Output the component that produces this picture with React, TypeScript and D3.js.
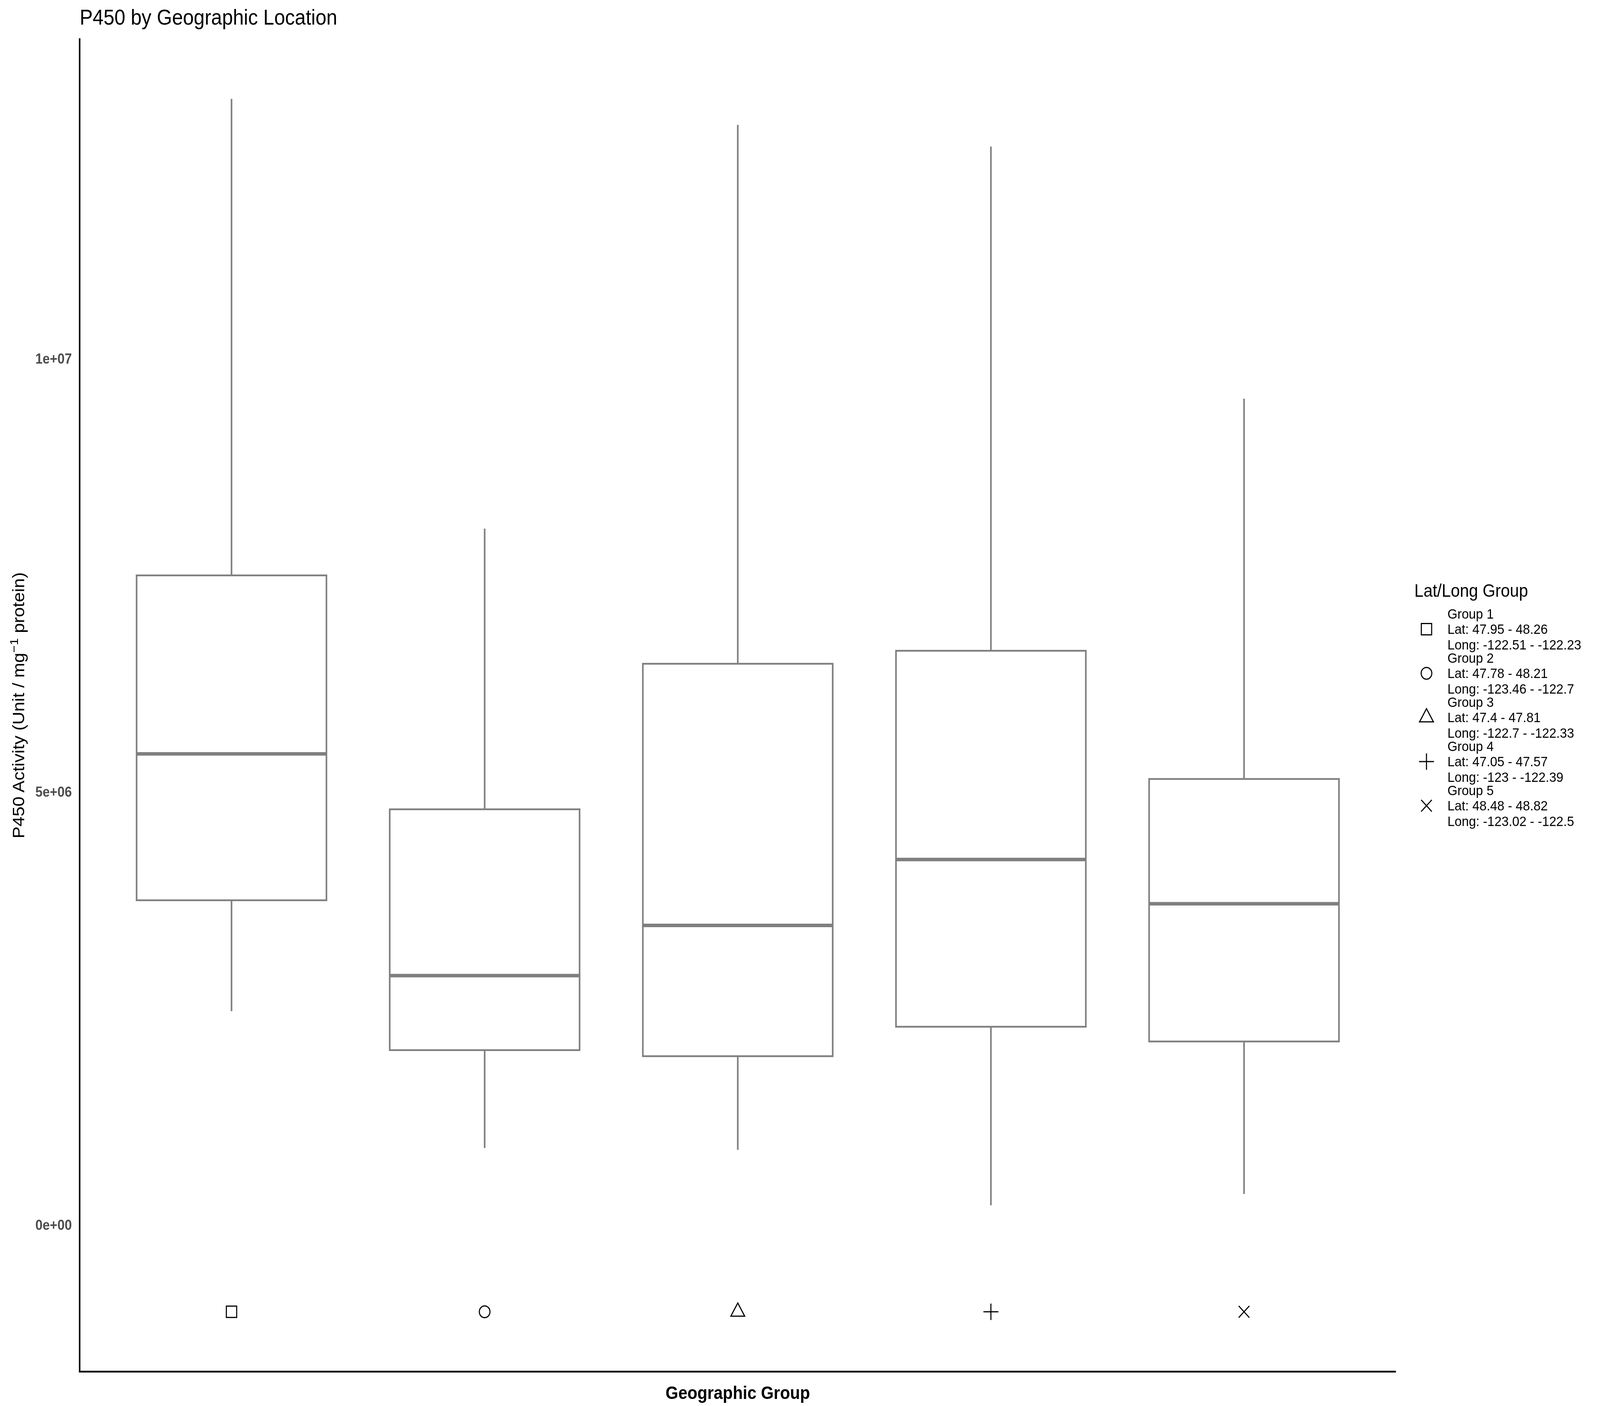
import { useEffect, useRef } from 'react';
import * as d3 from 'd3';

const groups = ['Group 1', 'Group 2', 'Group 3', 'Group 4', 'Group 5'];
const whiskerHigh = [13.0e6, 8.04e6, 12.7e6, 12.45e6, 9.54e6];
const q3 = [7.5e6, 4.8e6, 6.48e6, 6.63e6, 5.15e6];
const medians = [5.44e6, 2.88e6, 3.46e6, 4.22e6, 3.71e6];
const q1 = [3.75e6, 2.02e6, 1.95e6, 2.29e6, 2.12e6];
const whiskerLow = [2.47e6, 0.89e6, 0.87e6, 0.23e6, 0.36e6];
const markerValues = [-1e6, -1e6, -1e6, -1e6, -1e6];
const shapes = ['square', 'circle', 'triangle', 'plus', 'cross'];
const latRanges = ['47.95 - 48.26', '47.78 - 48.21', '47.4 - 47.81', '47.05 - 47.57', '48.48 - 48.82'];
const longRanges = ['-122.51 - -122.23', '-123.46 - -122.7', '-122.7 - -122.33', '-123 - -122.39', '-123.02 - -122.5'];
const yTicks = [0, 5e6, 1e7];
const yTickLabels = ['0e+00', '5e+06', '1e+07'];

const FONT = '"Liberation Sans", Arial, Helvetica, sans-serif';
const BOX_COLOR = '#7f7f7f';

function shapePath(shape: string, cx: number, cy: number): string {
  const p = d3.path();
  if (shape === 'square') {
    const s = 14.5;
    p.rect(cx - s, cy - s, 2 * s, 2 * s);
  } else if (shape === 'circle') {
    p.moveTo(cx + 15, cy);
    p.arc(cx, cy, 15, 0, Math.PI * 2);
  } else if (shape === 'triangle') {
    const r = 22.5;
    p.moveTo(cx, cy - r);
    p.lineTo(cx + r * 0.866, cy + r / 2);
    p.lineTo(cx - r * 0.866, cy + r / 2);
    p.closePath();
  } else if (shape === 'plus') {
    const h = 21;
    p.moveTo(cx - h, cy);
    p.lineTo(cx + h, cy);
    p.moveTo(cx, cy - h);
    p.lineTo(cx, cy + h);
  } else {
    const c = 15;
    p.moveTo(cx - c, cy - c);
    p.lineTo(cx + c, cy + c);
    p.moveTo(cx - c, cy + c);
    p.lineTo(cx + c, cy - c);
  }
  return p.toString();
}

export default function App() {
  const ref = useRef<SVGSVGElement>(null);
  const width = 4500;
  const height = 3600;

  useEffect(() => {
    if (!ref.current) return;
    const svg = d3.select(ref.current);
    svg.selectAll('*').remove();

    const panel = { left: 224, right: 3926, top: 98, bottom: 3514 };

    svg.append('rect').attr('width', width).attr('height', height).attr('fill', '#fff');

    // ggplot-style 5% expansion of the data range
    const lo = d3.min(markerValues.concat(whiskerLow)) ?? 0;
    const hi = d3.max(whiskerHigh) ?? 1;
    const pad = (hi - lo) * 0.05;
    const y = d3.scaleLinear().domain([lo - pad, hi + pad]).range([panel.bottom, panel.top]);
    const x = d3.scalePoint<string>().domain(groups).range([panel.left, panel.right]).padding(0.6);
    const boxW = x.step() * 0.75;

    const g = svg.append('g');

    groups.forEach((grp, i) => {
      const cx = x(grp) ?? 0;
      g.append('line')
        .attr('x1', cx).attr('x2', cx)
        .attr('y1', y(whiskerHigh[i])).attr('y2', y(q3[i]))
        .attr('stroke', BOX_COLOR).attr('stroke-width', 4.5);
      g.append('line')
        .attr('x1', cx).attr('x2', cx)
        .attr('y1', y(q1[i])).attr('y2', y(whiskerLow[i]))
        .attr('stroke', BOX_COLOR).attr('stroke-width', 4.5);
      g.append('rect')
        .attr('x', cx - boxW / 2)
        .attr('y', y(q3[i]))
        .attr('width', boxW)
        .attr('height', y(q1[i]) - y(q3[i]))
        .attr('fill', '#fff')
        .attr('stroke', BOX_COLOR)
        .attr('stroke-width', 4.5);
      g.append('line')
        .attr('x1', cx - boxW / 2).attr('x2', cx + boxW / 2)
        .attr('y1', y(medians[i])).attr('y2', y(medians[i]))
        .attr('stroke', BOX_COLOR).attr('stroke-width', 9);
      g.append('path')
        .attr('d', shapePath(shapes[i], cx, y(markerValues[i])))
        .attr('fill', 'none')
        .attr('stroke', '#000')
        .attr('stroke-width', 3);
    });

    const yAxis = svg
      .append('g')
      .attr('transform', `translate(${panel.left},0)`)
      .call(
        d3.axisLeft(y)
          .tickValues(yTicks)
          .tickSize(0)
          .tickPadding(22)
          .tickFormat((_, i) => yTickLabels[i])
      );
    yAxis.select('.domain').remove();
    yAxis.selectAll('text')
      .attr('font-family', FONT)
      .attr('font-size', 36.5)
      .attr('font-weight', 'bold')
      .attr('fill', '#4d4d4d');

    svg.append('line')
      .attr('x1', panel.left).attr('x2', panel.left)
      .attr('y1', panel.top).attr('y2', panel.bottom)
      .attr('stroke', '#000').attr('stroke-width', 4.3);
    svg.append('line')
      .attr('x1', panel.left - 2).attr('x2', panel.right)
      .attr('y1', panel.bottom - 2).attr('y2', panel.bottom - 2)
      .attr('stroke', '#000').attr('stroke-width', 4.3);

    svg.append('text')
      .attr('x', 224).attr('y', 63)
      .attr('font-family', FONT).attr('font-size', 55)
      .text('P450 by Geographic Location');

    svg.append('text')
      .attr('x', (panel.left + panel.right) / 2).attr('y', 3582)
      .attr('text-anchor', 'middle')
      .attr('font-family', FONT).attr('font-size', 46).attr('font-weight', 'bold')
      .text('Geographic Group');

    const yTitle = svg.append('text')
      .attr('transform', `translate(68,${(panel.top + panel.bottom) / 2}) rotate(-90)`)
      .attr('text-anchor', 'middle')
      .attr('font-family', FONT).attr('font-size', 46);
    yTitle.append('tspan').text('P450 Activity (Unit / mg');
    yTitle.append('tspan').attr('dy', -18).attr('font-size', 33).text('\u22121');
    yTitle.append('tspan').attr('dy', 18).text(' protein)');

    const legend = svg.append('g');
    legend.append('text')
      .attr('x', 3978).attr('y', 1528)
      .attr('font-family', FONT).attr('font-size', 46)
      .text('Lat/Long Group');
    groups.forEach((grp, i) => {
      const base = 1584 + 113 * i;
      legend.append('path')
        .attr('d', shapePath(shapes[i], 4012, 1611 + 113 * i))
        .attr('fill', 'none').attr('stroke', '#000').attr('stroke-width', 3);
      const lines = [grp, `Lat: ${latRanges[i]}`, `Long: ${longRanges[i]}`];
      lines.forEach((t, j) => {
        legend.append('text')
          .attr('x', 4071).attr('y', base + j * 39.5)
          .attr('font-family', FONT).attr('font-size', 36)
          .text(t);
      });
    });
  }, []);

  // the visible page is narrower than 4500px, so the 4500x3600 drawing is fitted to it
  return (
    <div style={{ position: 'fixed', left: 0, top: 0, width: '100vw', height: '100vh', overflow: 'hidden' }}>
      <svg
        ref={ref}
        viewBox={`0 0 ${width} ${height}`}
        preserveAspectRatio="none"
        style={{ display: 'block', width: '100vw', height: '100vh' }}
      />
    </div>
  );
}
